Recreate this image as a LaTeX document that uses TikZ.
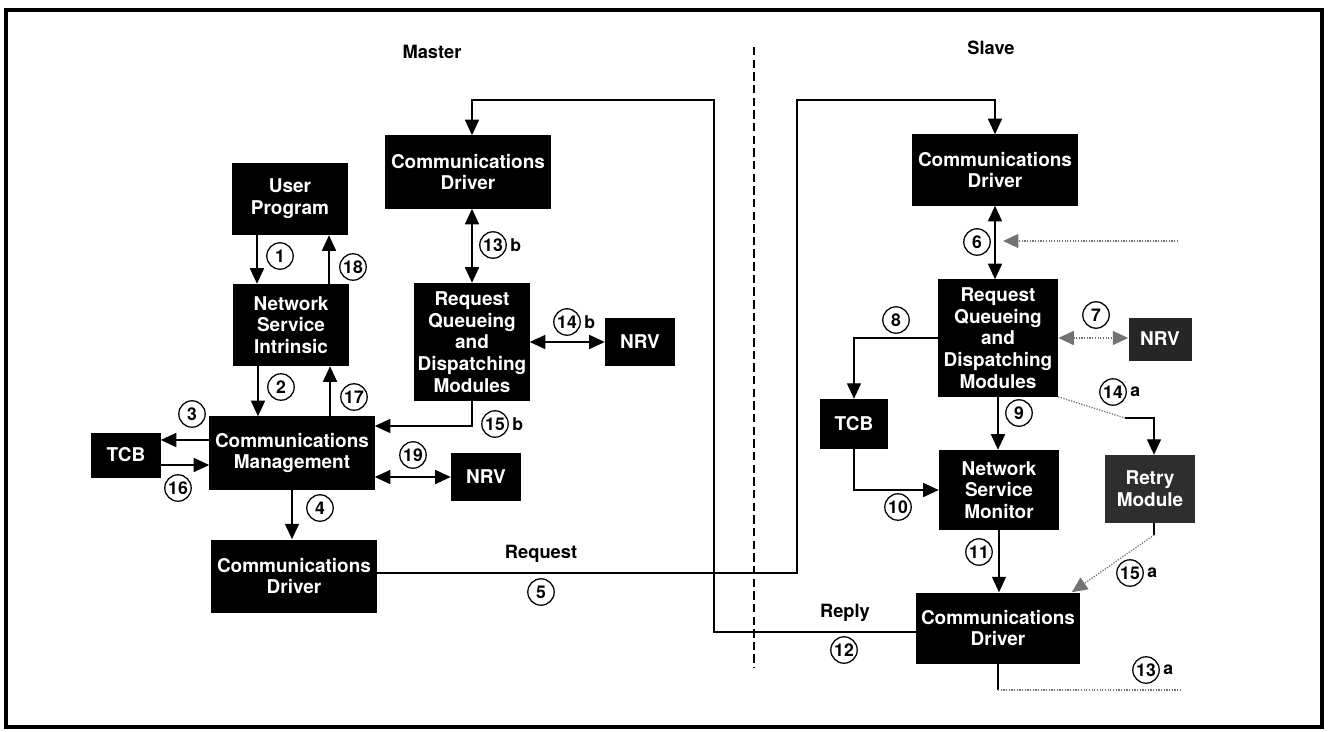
\documentclass[tikz,border=0pt]{standalone}
\usepackage{fontspec}
\setmainfont{TeX Gyre Heros}
\usetikzlibrary{arrows.meta,positioning}

\begin{document}
\begin{tikzpicture}[
  x=0.025cm, y=-0.025cm,
  box/.style={fill=black, text=white, align=center, inner sep=1pt, font=\bfseries\fontsize{13.5}{15.5}\selectfont},
  num/.style={circle, draw, line width=0.9pt, inner sep=0pt, minimum size=0.66cm, font=\bfseries\fontsize{12.5}{12.5}\selectfont},
  tag/.style={font=\bfseries\fontsize{12.5}{13}\selectfont, inner sep=0pt},
  title/.style={font=\bfseries\fontsize{13}{15}\selectfont},
  flow/.style={-{Triangle[length=11pt,width=10pt]}, line width=0.9pt},
  both/.style={{Triangle[length=11pt,width=10pt]}-{Triangle[length=11pt,width=10pt]}, line width=0.9pt},
  dotline/.style={densely dotted, line width=0.9pt, draw=black!55},
  dotflow/.style={dotline, -{Triangle[length=11pt,width=10pt]}},
  dotboth/.style={dotline, {Triangle[length=11pt,width=10pt]}-{Triangle[length=11pt,width=10pt]}},
  divider/.style={line width=0.9pt, dash pattern=on 6pt off 3pt}
]
\useasboundingbox (0,0) rectangle (1328,731);
\draw[line width=3pt] (6,10) rectangle (1322,727);

\node[title] (master) at (432,52) {Master};
\node[title] (slave) at (991,48) {Slave};
\draw[divider] (754,47) -- (754,668);

\node[box, minimum width=2.875cm, minimum height=1.8cm] (userprog) at (290,199) {User\\Program};
\node[box, minimum width=2.875cm, minimum height=2.05cm] (nsi) at (291,325) {Network\\Service\\Intrinsic};
\node[box, minimum width=4.125cm, minimum height=1.825cm] (mdriver) at (468,172) {Communications\\Driver};
\node[box, minimum width=2.875cm, minimum height=2.95cm] (mqueue) at (472,342) {Request\\Queueing\\and\\Dispatching\\Modules};
\node[box, minimum width=1.75cm, minimum height=1.2cm] (mnrv) at (640,342) {NRV};
\node[box, minimum width=1.725cm, minimum height=1.125cm] (mtcb) at (126,455) {TCB};
\node[box, minimum width=4.125cm, minimum height=1.825cm] (commgmt) at (292,453) {Communications\\Management};
\node[box, minimum width=1.75cm, minimum height=1.2cm] (cmnrv) at (486,477) {NRV};
\node[box, minimum width=4.15cm, minimum height=1.825cm] (mdriverout) at (294,576) {Communications\\Driver};

\node[box, minimum width=4.125cm, minimum height=1.775cm] (sdriver) at (995,170) {Communications\\Driver};
\node[box, minimum width=3.0cm, minimum height=2.925cm] (squeue) at (998,338) {Request\\Queueing\\and\\Dispatching\\Modules};
\node[box, fill=black!85, minimum width=1.575cm, minimum height=1.075cm] (snrv) at (1160,339) {NRV};
\node[box, minimum width=1.7cm, minimum height=1.25cm] (stcb) at (854,424) {TCB};
\node[box, minimum width=3.0cm, minimum height=2.0cm] (monitor) at (999,490) {Network\\Service\\Monitor};
\node[box, fill=black!82, minimum width=2.25cm, minimum height=1.7cm] (retry) at (1150,489) {Retry\\Module};
\node[box, minimum width=4.075cm, minimum height=1.775cm] (sdriverout) at (998,628) {Communications\\Driver};

\coordinate (requp) at (797,100);
\coordinate (replyup) at (714,100);
\coordinate (sixin) at (1178,241);
\coordinate (retrybend) at (1125,418);
\coordinate (retryout) at (1154,535);
\coordinate (thirteenend) at (1180,690);

\draw[flow] ([xshift=-0.825cm]userprog.south) -- ([xshift=-0.825cm]userprog.south |- nsi.north);
\draw[flow] ([xshift=0.975cm]userprog.south |- nsi.north) -- ([xshift=0.975cm]userprog.south);
\draw[flow] ([xshift=-0.825cm]nsi.south) -- ([xshift=-0.825cm]nsi.south |- commgmt.north);
\draw[flow] ([xshift=0.975cm]nsi.south |- commgmt.north) -- ([xshift=0.975cm]nsi.south);
\draw[flow] ([yshift=0.325cm]commgmt.west) -- ([yshift=0.325cm]commgmt.west -| mtcb.east);
\draw[flow] ([yshift=-0.25cm]mtcb.east) -- ([yshift=-0.25cm]mtcb.east -| commgmt.west);
\draw[flow] (commgmt.south) -- (commgmt.south |- mdriverout.north);
\draw[both] (cmnrv.west -| commgmt.east) -- (cmnrv.west);
\draw[both] (mqueue.north |- mdriver.south) -- (mqueue.north);
\draw[both] (mqueue.east) -- (mqueue.east -| mnrv.west);
\draw[flow] (mqueue.south) |- ([yshift=0.675cm]commgmt.east);
\draw[flow] ([yshift=0.075cm]mdriverout.east) -| (requp) -| (sdriver.north);
\draw[flow] ([yshift=-0.1cm]sdriverout.west) -| (replyup) -| ([xshift=0.1cm]mdriver.north);

\draw[both] (sdriver.south) -- (sdriver.south |- squeue.north);
\draw[dotflow] (sixin) -- ([xshift=0.2cm]sixin -| sdriver.south);
\draw[dotboth] (squeue.east) -- (squeue.east -| snrv.west);
\draw[flow] (squeue.west) -| (stcb.north);
\draw[flow] (squeue.south) -- (squeue.south |- monitor.north);
\draw[flow] (stcb.south) |- (monitor.west);
\draw[flow] (monitor.south) -- (monitor.south |- sdriverout.north);
\draw[dotline] (squeue.south east) -- (retrybend);
\draw[flow] (retrybend) -| ([xshift=0.1cm]retry.north);
\draw[line width=0.9pt] (retryout |- retry.south) -- (retryout);
\draw[dotflow] (retryout) -- ([xshift=-0.2cm]sdriverout.north east);
\draw[line width=0.9pt] (sdriverout.south) -- (sdriverout.south |- thirteenend);
\draw[dotline] (sdriverout.south |- thirteenend) -- (thirteenend);

\node[title] (request) at (541,554) {Request};
\node[title] (reply) at (845,613) {Reply};

\node[num] (n1) at (280,256) {1};
\node[num] (n18) at (353,267) {18};
\node[num] (n2) at (281,387) {2};
\node[num] (n17) at (354,397) {17};
\node[num] (n3) at (192,414) {3};
\node[num] (n16) at (178,488) {16};
\node[num] (n4) at (320,508) {4};
\node[num] (n19) at (413,455) {19};
\node[num] (n15b) at (495,424) {15};
\node[tag, right=0.08cm of n15b] {b};
\node[num] (n13b) at (493,245) {13};
\node[tag, right=0.08cm of n13b] {b};
\node[num] (n14b) at (567,322) {14};
\node[tag, right=0.08cm of n14b] {b};
\node[num] (n5) at (541,592) {5};
\node[num] (n12) at (844,650) {12};
\node[num] (n6) at (977,242) {6};
\node[num] (n7) at (1096,315) {7};
\node[num] (n8) at (896,320) {8};
\node[num] (n9) at (1019,413) {9};
\node[num] (n14a) at (1113,392) {14};
\node[tag, right=0.08cm of n14a] {a};
\node[num] (n10) at (898,507) {10};
\node[num] (n11) at (979,552) {11};
\node[num] (n15a) at (1130,573) {15};
\node[tag, right=0.08cm of n15a] {a};
\node[num] (n13a) at (1146,670) {13};
\node[tag, right=0.08cm of n13a] {a};
\end{tikzpicture}
\end{document}
